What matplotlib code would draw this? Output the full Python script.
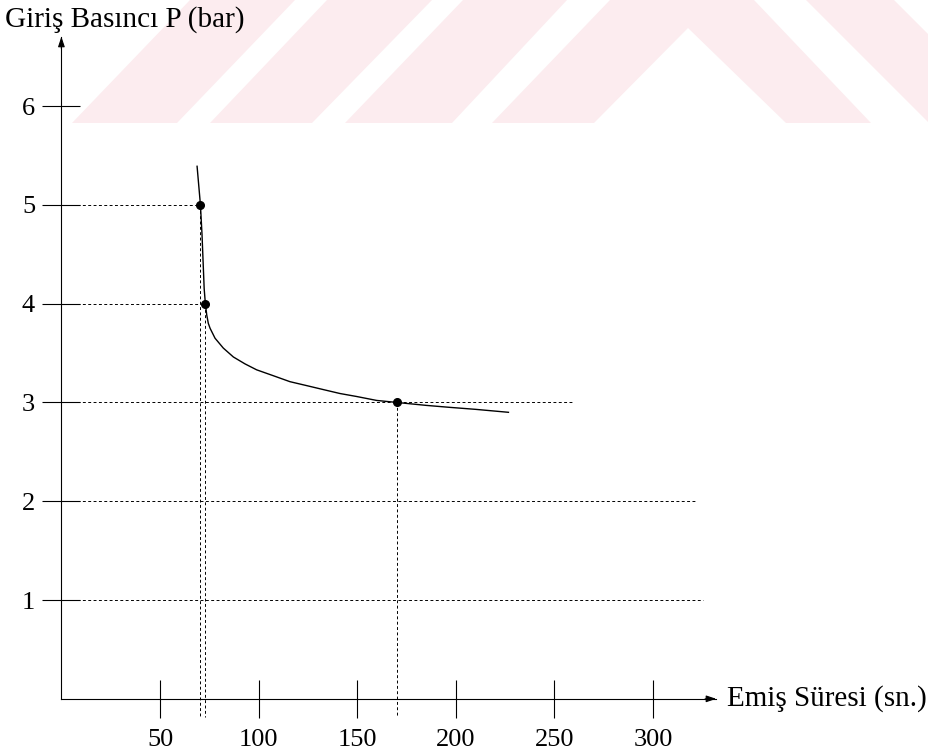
import matplotlib.pyplot as plt
from matplotlib.patches import Polygon

plt.rcParams['font.family'] = ['Liberation Serif', 'DejaVu Serif']

# inlet pressure vs. suction time
curve_t = [68.8, 70.5, 71.3, 71.9, 72.4, 73.0, 73.7, 74.5, 75.4, 77.9, 82.1, 87.2, 93.1,
           99.0, 107.5, 115.9, 124.4, 132.8, 141.3, 149.7, 159.9, 170.0, 185.0, 197.0,
           210.0, 226.7]
curve_p = [5.39, 5.0, 4.7, 4.4, 4.15, 4.0, 3.885, 3.80, 3.75, 3.65, 3.55, 3.46, 3.39,
           3.33, 3.27, 3.21, 3.17, 3.13, 3.09, 3.06, 3.02, 3.0, 2.97, 2.95,
           2.93, 2.90]

# measured points
mark_t = [70.5, 73.0, 170.0]
mark_p = [5, 4, 3]

# horizontal guide lines and where they stop
guide_p = [5, 4, 3, 2, 1]
guide_end = [70.5, 73.0, 259.0, 322.5, 325.5]

x_ticks = [50, 100, 150, 200, 250, 300]
y_ticks = [1, 2, 3, 4, 5, 6]

W, H = 929, 751
fig = plt.figure(figsize=(W / 100, H / 100), dpi=100)
ax = fig.add_axes([0, 0, 1, 1])
ax.set_xlim(-31.14, 439.96)
ax.set_ylim(-0.528, 7.073)

# faint background stripes across the top band (pixel coordinates)
stripes = [
    [(72, 123), (177, 123), (295, 0), (190, 0)],
    [(210, 123), (312, 123), (432, 0), (327, 0)],
    [(345, 123), (452, 123), (567, 0), (463, 0)],
    [(492, 123), (610, 0), (754, 0), (871, 123), (786, 123), (688, 28), (594, 123)],
    [(806, 0), (894, 0), (929, 35), (929, 123)],
]
for pts in stripes:
    xy = [(px / W, 1 - py / H) for px, py in pts]
    ax.add_patch(Polygon(xy, closed=True, transform=fig.transFigure,
                         facecolor='#fcecef', edgecolor='none', zorder=0))

for s in ['top', 'right']:
    ax.spines[s].set_visible(False)
ax.spines['left'].set_position(('data', 0))
ax.spines['bottom'].set_position(('data', 0))
ax.spines['left'].set_bounds(0, 6.7)
ax.spines['bottom'].set_bounds(0, 332)
for s in ['left', 'bottom']:
    ax.spines[s].set_linewidth(0.8)

ax.annotate('', xy=(0, 6.73), xytext=(0, 6.55),
            arrowprops=dict(arrowstyle='-|>,head_length=0.6,head_width=0.2', color='k', lw=0.8))
ax.annotate('', xy=(333.5, 0), xytext=(325, 0),
            arrowprops=dict(arrowstyle='-|>,head_length=0.6,head_width=0.2', color='k', lw=0.8))

ax.set_xticks(x_ticks)
ax.set_yticks(y_ticks)
ax.tick_params(direction='inout', length=28, width=0.8, labelsize=19)
ax.tick_params(axis='x', pad=8)
ax.tick_params(axis='y', pad=5)

dash = (0, (3, 2.5))
for p, e in zip(guide_p, guide_end):
    ax.plot([0, e], [p, p], color='k', lw=0.7, ls=dash)
for t, p in zip(mark_t, mark_p):
    ax.plot([t, t], [p, -0.18], color='k', lw=0.7, ls=dash)

ax.plot(curve_t, curve_p, color='k', lw=1.0)
ax.plot(mark_t, mark_p, 'o', color='k', ms=5.5)

ax.text(-28.6, 6.88, 'Giriş Basıncı P (bar)', fontsize=21, va='center', ha='left')
ax.text(337.5, 0, 'Emiş Süresi (sn.)', fontsize=21, va='center', ha='left')

fig.savefig('out.png', dpi=100)
